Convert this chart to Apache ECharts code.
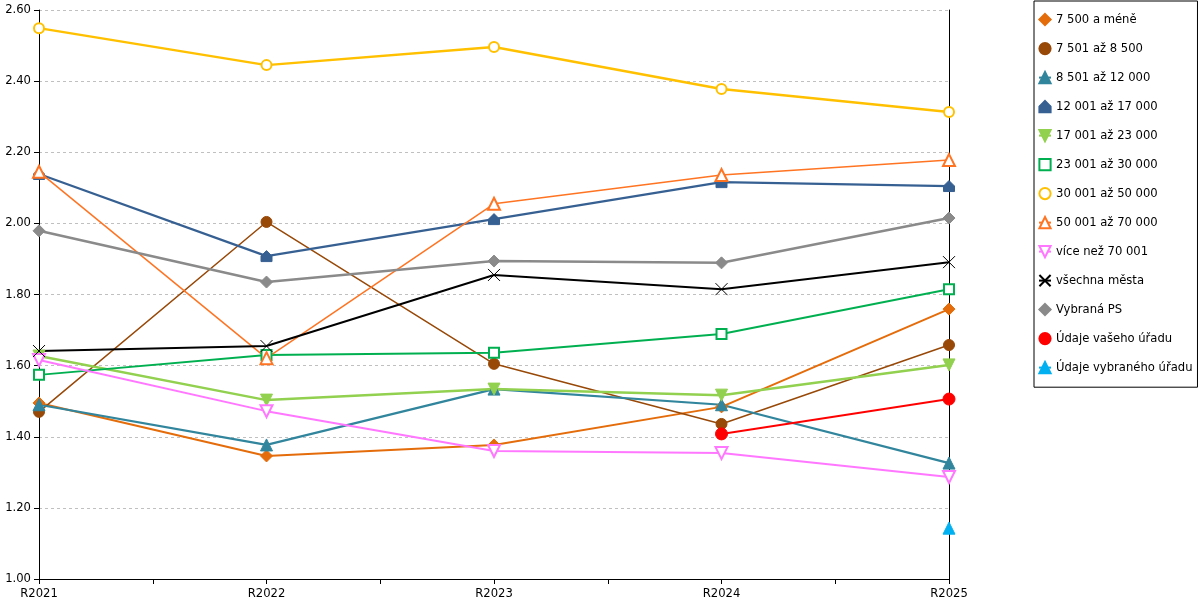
<!DOCTYPE html>
<html>
<head>
<meta charset="utf-8" />
<title>Vývoj ukazatele</title>
<script src="https://cdn.jsdelivr.net/npm/echarts@6/dist/echarts.min.js"></script>
<style>
  html, body { margin: 0; padding: 0; background: #fff; }
  #chart { width: 1200px; height: 600px; }
</style>
</head>
<body>
<div id="chart"></div>
<script type="text/javascript">
    // roky na ose x
    var categories = ['R2021', 'R2022', 'R2023', 'R2024', 'R2025'];
    var yTicks = [1.0, 1.2, 1.4, 1.6, 1.8, 2.0, 2.2, 2.4, 2.6];

    // hodnoty podle velikostních skupin
    var names = ['7 500 a méně', '7 501 až 8 500', '8 501 až 12 000', '12 001 až 17 000',
        '17 001 až 23 000', '23 001 až 30 000', '30 001 až 50 000', '50 001 až 70 000',
        'více než 70 001', 'všechna města', 'Vybraná PS', 'Údaje vašeho úřadu', 'Údaje vybraného úřadu'];
    var s7500 = [1.495, 1.346, 1.377, 1.484, 1.759];
    var s8500 = [1.470, 2.004, 1.605, 1.436, 1.658];
    var s12000 = [1.490, 1.377, 1.534, 1.490, 1.326];
    var s17000 = [2.139, 1.908, 2.012, 2.116, 2.105];
    var s23000 = [1.627, 1.503, 1.534, 1.517, 1.602];
    var s30000 = [1.574, 1.630, 1.636, 1.689, 1.815];
    var s50000 = [2.549, 2.445, 2.496, 2.378, 2.313];
    var s70000 = [2.145, 1.621, 2.055, 2.136, 2.178];
    var sOver = [1.616, 1.472, 1.360, 1.354, 1.287];
    var sAll = [1.641, 1.655, 1.855, 1.815, 1.891];
    var sPS = [1.979, 1.835, 1.894, 1.889, 2.015];
    var sYour = [null, null, null, 1.408, 1.506];
    var sSelected = [null, null, null, null, 1.143];

    var house = 'path://M5,0L10,5L10,10L0,10L0,5Z';
    var cross = 'path://M0,0L10,10M10,0L0,10';

    function toPoints(arr) {
        var out = [];
        for (var i = 0; i < arr.length; i++) {
            if (arr[i] !== null) out.push([i, arr[i]]);
        }
        return out;
    }

    function line(name, values, color, symbol, size, width, extra) {
        var s = {
            name: name,
            type: 'line',
            data: toPoints(values),
            symbol: symbol,
            symbolSize: size,
            showAllSymbol: true,
            lineStyle: { color: color, width: width },
            itemStyle: { color: color, borderColor: color, borderWidth: 1 },
            emphasis: { disabled: true },
            z: 2
        };
        for (var k in extra) s[k] = extra[k];
        return s;
    }

    var myChart = echarts.init(document.getElementById('chart'));

    myChart.setOption({
        animation: false,
        textStyle: { fontFamily: 'DejaVu Sans' },
        grid: { left: 39, right: 251, top: 10, bottom: 21 },
        legend: {
            orient: 'vertical',
            left: 1034,
            top: 1,
            padding: [12, 5, 13, 4],
            itemWidth: 12,
            itemHeight: 14,
            itemGap: 15.8,
            borderColor: '#000',
            borderWidth: 1,
            textStyle: { fontSize: 11.6, color: '#000', fontFamily: 'DejaVu Sans' },
            data: names
        },
        xAxis: {
            type: 'value',
            min: 0,
            max: 4,
            interval: 0.5,
            splitLine: { show: false },
            axisLine: { lineStyle: { color: '#000', width: 1 } },
            axisTick: { length: 5, lineStyle: { color: '#000' } },
            axisLabel: {
                color: '#000',
                fontSize: 11.6,
                margin: 9,
                formatter: function (v) {
                    return Number.isInteger(v) ? categories[v] : '';
                }
            }
        },
        yAxis: [{
            type: 'value',
            min: yTicks[0],
            max: yTicks[yTicks.length - 1],
            interval: 0.2,
            axisLine: { show: true, lineStyle: { color: '#000', width: 1 } },
            axisTick: { show: true, length: 5, lineStyle: { color: '#000' } },
            axisLabel: {
                color: '#000',
                fontSize: 11.6,
                margin: 8,
                formatter: function (v) { return v.toFixed(2); }
            },
            splitLine: { lineStyle: { color: '#c0c0c0', type: [3, 3] } }
        }, {
            type: 'value',
            position: 'right',
            min: yTicks[0],
            max: yTicks[yTicks.length - 1],
            interval: 0.2,
            axisLine: { show: true, lineStyle: { color: '#000', width: 1 } },
            axisTick: { show: false },
            axisLabel: { show: false },
            splitLine: { show: false }
        }],
        series: [
            line(names[0], s7500, '#E46C0A', 'diamond', 12, 2),
            line(names[1], s8500, '#984807', 'circle', 11, 1.5),
            line(names[2], s12000, '#31859C', 'triangle', 12, 2.2),
            line(names[3], s17000, '#376092', house, 11, 2.2),
            line(names[4], s23000, '#92D050', 'triangle', 12, 2.5, { symbolRotate: 180 }),
            line(names[5], s30000, '#00B050', 'emptyRect', 10, 2),
            line(names[6], s50000, '#FFC000', 'emptyCircle', 10, 2.5),
            line(names[7], s70000, '#FF7422', 'emptyTriangle', 12, 1.5),
            line(names[8], sOver, '#FF77FF', 'emptyTriangle', 12, 2, { symbolRotate: 180 }),
            line(names[9], sAll, '#000000', cross, 12, 2),
            line(names[10], sPS, '#8a8a8a', 'diamond', 12, 2.5),
            line(names[11], sYour, '#FF0000', 'circle', 12, 2),
            line(names[12], sSelected, '#00B0F0', 'triangle', 12, 2)
        ]
    });
</script>
</body>
</html>
